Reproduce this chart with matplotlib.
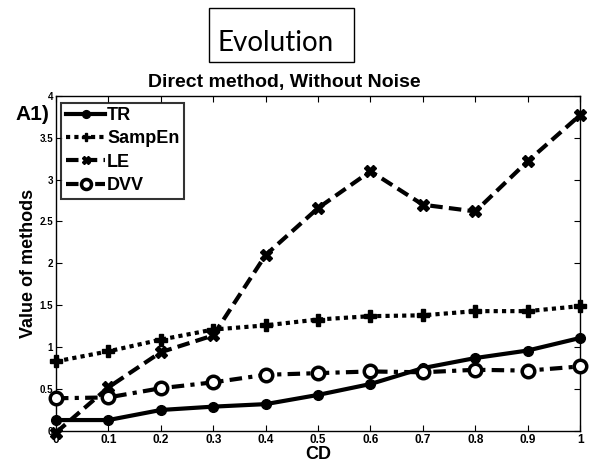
import matplotlib.pyplot as plt
from matplotlib.patches import Rectangle

cd = [0, 0.1, 0.2, 0.3, 0.4, 0.5, 0.6, 0.7, 0.8, 0.9, 1.0]
tr = [0.13, 0.13, 0.25, 0.29, 0.32, 0.43, 0.56, 0.75, 0.87, 0.96, 1.11]
sampen = [0.83, 0.95, 1.09, 1.21, 1.26, 1.33, 1.37, 1.38, 1.43, 1.43, 1.49]
le = [-0.02, 0.52, 0.94, 1.14, 2.1, 2.66, 3.1, 2.7, 2.62, 3.22, 3.77]
dvv = [0.39, 0.40, 0.51, 0.58, 0.67, 0.69, 0.71, 0.70, 0.73, 0.72, 0.77]

xticks = [0, 0.1, 0.2, 0.3, 0.4, 0.5, 0.6, 0.7, 0.8, 0.9, 1]
xticklabels = ["0", "0.1", "0.2", "0.3", "0.4", "0.5", "0.6", "0.7", "0.8", "0.9", "1"]
yticks = [0, 0.5, 1, 1.5, 2, 2.5, 3, 3.5, 4]
yticklabels = ["0", "0.5", "1", "1.5", "2", "2.5", "3", "3.5", "4"]

plt.rcParams['font.family'] = ['Liberation Sans', 'DejaVu Sans']

fig = plt.figure(figsize=(5.89, 4.72), dpi=100)
ax = fig.add_axes([0.095, 0.087, 0.89, 0.71])

ax.plot(cd, tr, color="black", linestyle="-", linewidth=3, marker="o",
        markersize=7, label="TR", clip_on=False, zorder=4)
ax.plot(cd, sampen, color="black", linestyle=(0, (1, 1)), linewidth=3, marker="P",
        markersize=8, label="SampEn", clip_on=False, zorder=3)
ax.plot(cd, le, color="black", linestyle=(0, (3, 1.5)), linewidth=3, marker="X",
        markersize=8, label="LE", clip_on=False, zorder=3)
ax.plot(cd, dvv, color="black", linestyle=(0, (3, 1.5, 1, 1.5)), linewidth=3, marker="o",
        markersize=9, markerfacecolor="white", markeredgewidth=2.5, label="DVV",
        clip_on=False, zorder=5)

ax.set_xlim(0, 1)
ax.set_ylim(0, 4)
ax.set_xticks(xticks)
ax.set_xticklabels(xticklabels, fontsize=8.5, fontweight="bold")
ax.set_yticks(yticks)
ax.set_yticklabels(yticklabels, fontsize=7, fontweight="bold")
ax.tick_params(direction="in", top=True, right=True, length=4, width=0.8, pad=2)
for s in ax.spines.values():
    s.set_linewidth(1)

ax.set_xlabel("CD", fontsize=13, fontweight="bold", labelpad=0)
ax.set_ylabel("Value of methods", fontsize=13, fontweight="bold", labelpad=2)

# title sits left of the axes centre in the original
fig.text(284 / 589, 1 - 87 / 472, "Direct method, Without Noise", fontsize=14,
         fontweight="bold", ha="center", va="baseline")

leg = ax.legend(loc="upper left", bbox_to_anchor=(0.01, 0.98),
                prop={"weight": "bold", "size": 13}, frameon=True, fancybox=False,
                edgecolor="black", handlelength=2.2, handletextpad=0.1,
                borderpad=0.25, labelspacing=0.35, borderaxespad=0, markerscale=0.8)
leg.get_frame().set_linewidth(1.5)

fig.text(0.027, 1 - 115 / 472, "A1)", fontsize=15, fontweight="bold", ha="left", va="center")

fig.text(276 / 589, 1 - 51 / 472, "Evolution", fontsize=20, family=["Lato", "DejaVu Sans"],
         ha="center", va="baseline")
fig.patches.append(Rectangle((209 / 589, 1 - 62 / 472), 145 / 589, 54 / 472,
                             transform=fig.transFigure, fill=False,
                             edgecolor="black", linewidth=1))

fig.savefig("out.png", dpi=100)
